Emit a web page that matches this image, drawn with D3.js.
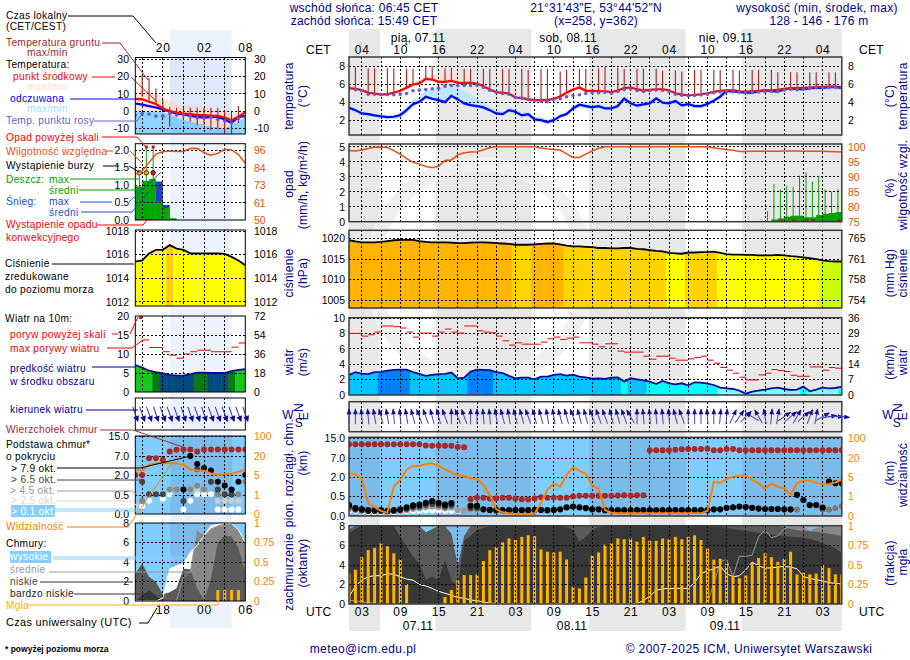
<!DOCTYPE html>
<html>
<head>
<meta charset="utf-8">
<script src="https://cdn.jsdelivr.net/npm/d3@7"></script>
<style>
	html, body { margin: 0; padding: 0; background: #fff; }
	svg { display: block; }
	text { font-family: "Liberation Sans", Arial, sans-serif; font-size: 12px; letter-spacing: 0.25px; }
	.tick text { font-size: 10.5px; letter-spacing: 0; }
	.time .tick text { font-size: 12px; letter-spacing: 0.8px; }
	.legend text { font-size: 10.2px; letter-spacing: 0.3px; }
</style>
</head>
<body>
<svg id="chart" width="910" height="660"></svg>
<script>
// main panels: hours counted in UTC from 07.11 00:00, first point is 01 UTC
const hours = d3.range(1, 79)
// left panels: hours counted from 06.11 00:00 UTC
const leftHours = d3.range(14, 31)

const cetTicks = [3, 9, 15, 21, 27, 33, 39, 45, 51, 57, 63, 69, 75]
const cetLabels = ["04", "10", "16", "22", "04", "10", "16", "22", "04", "10", "16", "22", "04"]
const utcLabels = ["03", "09", "15", "21", "03", "09", "15", "21", "03", "09", "15", "21", "03"]
const nightRanges = [[1, 5.85], [14.55, 29.5], [38.5, 53.6], [62.4, 78]]

// temperature, main
const temp = [5.56, 5.49, 5.34, 5.05, 4.97, 4.86, 4.9, 5.05, 5.27, 5.6, 5.96, 6.07, 6.59, 6.51, 6.26, 6.26, 6.37, 6.15, 6.15, 6.15,
	6.07, 5.78, 5.41, 5.12, 5.05, 4.97, 4.53, 4.46, 4.32, 4.24, 4.24, 4.24, 4.39, 4.64, 5.05, 5.41, 5.63, 5.27, 5.27, 5.23,
	5.22, 5.11, 5.3, 5.56, 5.63, 5.44, 5.3, 5.37, 5.44, 5.44, 5.3, 5, 4.85, 4.78, 4.81, 4.89, 5, 5.15, 5.26, 5.33,
	5.33, 5.22, 5.19, 5.22, 5.26, 5.3, 5.33, 5.37, 5.48, 5.56, 5.56, 5.59, 5.63, 5.67, 5.7, 5.74, 5.74, 5.67]
const feels = [3.4, 3.14, 2.78, 2.7, 2.56, 2.45, 2.37, 2.41, 2.59, 3.14, 3.8, 4.06, 4.61, 4.39, 4.24, 4.02, 4.72, 4.32, 3.88, 3.69,
	3.58, 3.44, 3.14, 2.78, 2.7, 3.14, 2.96, 2.56, 2.7, 2.12, 2.04, 1.82, 2.04, 2.48, 2.7, 3.33, 3.73, 3.58, 3.44, 3.58,
	3.33, 3.33, 3.59, 4.41, 3.89, 3.63, 3.78, 3.89, 4.44, 3.96, 3.89, 4.15, 3.67, 3.81, 3.59, 3.59, 3.81, 4.19, 4.63, 5.26,
	5.19, 5.15, 5.07, 5.07, 5.22, 5.3, 5.26, 5.19, 5.44, 5.52, 5.44, 5.44, 5.56, 5.59, 5.59, 5.67, 5.67, 5.59]
const dew = [5.5, 5.4, 5.27, 4.9, 4.9, 4.83, 4.83, 4.83, 4.9, 4.97, 5.27, 5.34, 5.41, 5.49, 5.56, 5.78, 5.85, 5.85, 5.85, 5.85,
	5.89, 5.63, 5.34, 5.12, 4.97, 4.9, 4.53, 4.46, 4.32, 4.17, 4.13, 4.13, 4.32, 4.39, 4.61, 4.75, 4.83, 4.97, 5.05, 5.05,
	5.1, 5.0, 5.2, 5.4, 5.5, 5.3, 5.2, 5.3, 5.35, 5.3, 5.2, 4.9, 4.78, 4.72, 4.75, 4.82, 4.9, 5.05, 5.15, 5.2,
	5.18, 5.12, 5.1, 5.1, 5.15, 5.2, 5.2, 5.25, 5.35, 5.45, 5.4, 5.45, 5.55, 5.6, 5.6, 5.65, 5.65, 5.6]
const tempSpread = [0.15, 0.15, 0.15, 0.15, 0.15, 0.15, 0.15, 0.15, 0.2, 0.3, 0.3, 0.45, 0.35, 0.5, 0.75, 0.85, 0.85, 0.85, 0.65, 0.45,
	0.25, 0.2, 0.15, 0.15, 0.15, 0.15, 0.15, 0.15, 0.15, 0.2, 0.2, 0.2, 0.2, 0.2, 0.2, 0.2, 0.2, 0.2, 0.2, 0.2,
	0.2, 0.2, 0.2, 0.2, 0.2, 0.2, 0.2, 0.2, 0.2, 0.2, 0.2, 0.15, 0.15, 0.15, 0.15, 0.15, 0.15, 0.15, 0.15, 0.15,
	0.15, 0.15, 0.15, 0.15, 0.15, 0.15, 0.15, 0.15, 0.15, 0.15, 0.15, 0.15, 0.15, 0.15, 0.15, 0.15, 0.15, 0.15]
const feelSpread = [0.2, 0.2, 0.2, 0.2, 0.2, 0.2, 0.2, 0.2, 0.25, 0.4, 0.5, 0.6, 0.7, 1, 1.4, 1.6, 1.1, 1.4, 1.4, 1.2,
	0.9, 0.6, 0.4, 0.3, 0.3, 0.3, 0.3, 0.3, 0.3, 0.3, 0.3, 0.3, 0.3, 0.3, 0.3, 0.3, 0.3, 0.3, 0.3, 0.3,
	0.25, 0.25, 0.25, 0.25, 0.25, 0.25, 0.25, 0.25, 0.25, 0.25, 0.25, 0.25, 0.25, 0.25, 0.25, 0.25, 0.25, 0.25, 0.25, 0.2,
	0.2, 0.2, 0.2, 0.2, 0.2, 0.2, 0.2, 0.2, 0.2, 0.2, 0.2, 0.2, 0.2, 0.2, 0.2, 0.2, 0.2, 0.2]
// ground temperature top, no bar on the 3 hourly grid lines
const groundMax = [null, 7.85, null, 7.75, 7.75, null, 7.75, 7.75, null, 7.7, 7.7, null, 7.95, 7.95, null, 7.75, 7.8, null, 7.7, 7.7,
	null, 7.7, 7.7, null, 7.7, 7.7, null, 7.7, 7.6, null, 7.7, 7.7, null, 7.4, 7.6, null, 7.7, 7.7, null, 7.75,
	7.9, null, 7.8, 7.7, null, 7.7, 7.7, null, 7.7, 7.5, null, 7.5, 7.4, null, 7.6, 7.6, null, 7.6, 7.6, null,
	7.6, 7.5, null, 7.6, 7.6, null, 7.6, 7.3, null, 7.3, 7.3, null, 7.3, 7.3, null, 7.3, 7.3, null]

// precipitation and humidity, main
const humidity = [98.7, 98.6, 98.9, 99.4, 99.8, 99.9, 99.7, 98.7, 97.5, 96, 94.8, 94.2, 93.4, 93.1, 93.5, 95.4, 95.6, 97.3, 98, 98.2,
	98.3, 99, 99.7, 100, 100, 100, 100, 100, 100, 100, 99.6, 99.3, 99.1, 98.9, 97.6, 96.4, 96.4, 97.5, 98.6, 99.5,
	100, 100, 100, 100, 100, 100, 100, 100, 100, 100, 100, 100, 100, 100, 100, 100, 99.9, 99.6, 99.3, 99.1,
	98.8, 98.4, 98.4, 98.5, 98.5, 98.5, 98.5, 98.5, 98.6, 98.6, 98.6, 98.5, 98.5, 98.5, 98.5, 98.4, 98.3, 98.2]
const rainMax = [0.7, 2.5, 2.15, 2.4, 2.33, 3.07, 3.3, 2.67, 3.07, 2.15, 2, 2.15]   // from h = 66
const rainMean = [0.15, 0.22, 0.33, 0.4, 0.4, 0.29, 0.29, 0.44, 0.53, 0.58, 0.64]   // from h = 67
const convective = [68, 70, 72, 73, 77]

// pressure, main
const pressure = [1019.6, 1019.3, 1019.1, 1019.1, 1019.1, 1019.2, 1019.4, 1019.6, 1019.7, 1019.7, 1019.7, 1019.4, 1019.2, 1019.1, 1019.1, 1019.1, 1019, 1018.9, 1018.9, 1019,
	1019.1, 1019.1, 1019, 1018.9, 1018.8, 1018.7, 1018.5, 1018.5, 1018.5, 1018.6, 1018.7, 1018.8, 1018.8, 1018.6, 1018.3, 1018.1, 1018.1, 1018, 1017.9, 1017.7,
	1017.7, 1017.6, 1017.6, 1017.7, 1017.7, 1017.5, 1017.4, 1017.2, 1017, 1016.9, 1016.5, 1016.4, 1016.3, 1016.6, 1016.6, 1016.7, 1016.7, 1016.8, 1016.5, 1016.2,
	1016.1, 1016.1, 1016, 1016, 1015.9, 1015.9, 1015.9, 1016, 1015.9, 1015.7, 1015.6, 1015.4, 1015.2, 1015, 1014.7, 1014.5, 1014.4, 1014.4]

// wind, main
const wind = [2.6, 2.96, 2.78, 2.7, 2.96, 3, 3.17, 3.26, 3.3, 3.3, 2.98, 2.74, 2.48, 2.6, 2.7, 2.74, 2.91, 2.17, 2.26, 3.04,
	3.3, 3.26, 3.22, 2.98, 2.83, 2.48, 2.17, 2.26, 2.26, 2.04, 2.39, 2.39, 2.6, 2.7, 2.52, 2.65, 2.39, 2.3, 2.13, 2.17,
	2.09, 2.26, 2.3, 1.74, 2.17, 2.04, 1.91, 1.74, 1.43, 1.83, 1.52, 1.39, 1.52, 1.26, 1.65, 1.61, 1.48, 1.3, 0.96, 0.87,
	0.78, 0.57, 0.17, 0.43, 0.57, 0.7, 0.87, 0.96, 0.78, 0.65, 0.7, 1.09, 0.48, 0.7, 0.96, 0.87, 0.91, 1.09]
const gust = [8, 8, 7.65, 7.83, 8.17, 8.96, 8.96, 8.87, 8.7, 8.17, 7.52, 8.04, 8.04, 7.65, 8.17, 8.57, 8.17, 8.04, 8.96, 8.96,
	8.35, 8.17, 8.09, 7.65, 7.04, 6.48, 6.78, 6.6, 6.6, 6.6, 6.87, 7.3, 7.52, 7.22, 7.39, 7.52, 6.78, 6.78, 6.6, 6.26,
	6.65, 6.65, 5.7, 5.57, 5.57, 5.57, 5.04, 4.65, 5.04, 5.04, 4.78, 4.52, 4.52, 4.7, 4.87, 5.04, 4.52, 4.13, 3.57, 3.22,
	2.83, 2.3, 1.96, 1.96, 2.61, 2.83, 3.3, 3.17, 3.04, 2.57, 2.43, 2.43, 3.65, 3.65, 3.22, 3.57, 3.48]
const windDir = [0, 0, 355, 355, 350, 345, 350, 355, 355, 350, 345, 340, 340, 345, 345, 340, 0, 340, 340, 0,
	0, 355, 355, 350, 345, 350, 345, 345, 340, 345, 345, 350, 350, 345, 345, 340, 345, 345, 340, 340,
	340, 345, 345, 340, 330, 0, 355, 355, 355, 355, 355, 345, 340, 0, 0, 0, 355, 0, 5, 5,
	25, 35, 45, 300, 330, 350, 5, 10, 55, 50, 30, 50, 20, 10, 60, 80, 90, 95]

// clouds, main (km)
const topA = [12.5, 12.5, 12.5, 12.5, 12.5, 12.5, 12.5, 12.5, 12.5, 12.5, 12.5, 12.5, 12, 11.9, 11.9, 11.9, 11.9, 11.4, 11.3]   // from h = 1
const topB = [0.43, 0.47, 0.47, 0.45, 0.45, 0.47, 0.47, 0.45, 0.43, 0.42, 0.45, 0.48, 0.47, 0.47, 0.47, 0.47, 0.5, 0.55, 0.55, 0.55, 0.55,
	0.55, 0.56, 0.58, 0.6, 0.58, 0.6, 0.6]   // from h = 20
const topC = [10.1, 10.1, 10.1, 10.1, 10.3, 10.5, 10.6, 10.6, 10.6, 10.7, 10.1, 10.1, 10.6, 10.6,
	10.1, 10.1, 10.1, 10.1, 10.1, 10.1, 10.1, 10.1, 10.1, 10.1, 10.1, 10.1, 10.1, 10.1, 10.1, 10.1, 10.1]   // from h = 48
const baseBlack = [0.28, 0.2, 0.17, 0.15, 0.15, 0.15, 0.13, 0.15, 0.17, 0.22, 0.27, 0.29, 0.34, 0.38, 0.34, 0.29, 0.33, null, null, 0.26,
	0.26, 0.17, 0.155, 0.15, 0.15, 0.15, 0.15, 0.15, 0.15, 0.155, 0.155, 0.15, 0.155, 0.17, 0.22, 0.24, 0.22, 0.2, 0.17, 0.17,
	0.15, 0.15, 0.15, 0.15, 0.15, 0.15, 0.15, 0.15, 0.15, 0.15, 0.15, 0.15, 0.15, 0.15, 0.15, 0.15, 0.15, 0.17, 0.17, 0.21,
	0.22, 0.24, 0.23, 0.21, 0.19, 0.18, 0.18, 0.18, 0.17, 0.17, 0.63, 0.41, 0.28, 0.28, 0.215, 1.64, 1.52, 1.52]
const baseDark = [0.22, 0.17, 0.15, 0.13, 0.13, 0.13, 0.12, 0.13, 0.15, 0.18, 0.22, 0.24, 0.28, 0.31, 0.28, 0.24, 0.27, null, null, 0.2, 0.2]   // from h = 1
const baseGray = [0.17, 0.15, 0.13, 0.12, 0.12, 0.12, 0.11, 0.12, 0.13, 0.15, 0.18, 0.19, 0.22, 0.24, 0.22, 0.19, 0.21, 0.15, 0.15, 0.16, 0.16]   // from h = 1
const baseWhite = [0.13, 0.13, 0.11, 0.1, 0.1, 0.1, 0.1, 0.1, 0.11, 0.12, 0.13, 0.13, 0.14, 0.14, 0.14, 0.13, 0.13, 0.12]   // from h = 1
const baseGrayLate = [0.16, 0.16, null, null, null, 0.16, 0.16, 0.2, 0.25]   // from h = 70
const visibility = [7.1, 7.1, 4.6, 0.66, 0.45, 0.26, 0.17, 3.03, 4.39, 10.5, 13.9, 13.7, 15, 15.8, 13.7, 11.05, 8.7, 6.3, 5.8, 4.7,
	4.66, 3.37, 1.34, 0.34, 0.19, 0.14, 0.1, 0.1, 0.09, 0.14, 0.66, 2.36, 3.7, 3.03, 6.6, 12.6, 10, 7.4, 3.37, 2.5,
	0.31, 0.17, 0.14, 0.14, 0.14, 0.14, 0.14, 0.14, 0.14, 0.14, 0.14, 0.14, 0.14, 0.14, 0.14, 0.14, 0.26, 4, 3.8, 4.6,
	5.3, 6, 6, 4.4, 3.7, 2.56, 3.7, 3, 2.7, 1.34, 3.7, 4.3, 4.25, 3.8, 3.5, 3.56, 3.9, 4.4]

// cloud cover (octants) and fog fraction, main
const cloudHigh = [0.75, 1.8, 2.45, 2.8, 2.9, 2.9, 3.1, 3.05, 2.8, 2.55, 2.45, 2, 1.85, 1.6, 1.3, 1.1, 0.9, 0.65, 0.6, 0.4,
	0.35, 0.2, 0.1, 0.05, 0, 0, 0, 0, 0, 0, 0, 0, 0, 0, 0, 0, 0, 0, 0, 0,
	0, 0, 0, 0, 0, 0.05, 0.35, 0.8, 1.4, 1.55, 1.6, 1.6, 1.6, 1.6, 2.2, 3.1, 3.4, 3.6, 3.9, 3.1,
	2.8, 2.9, 3.5, 4.3, 3.9, 3.7, 3.7, 3.8, 3.85, 3.8, 3.6, 2.85, 2.6, 2.5, 2.35, 2.2, 2.1, 2.05]
const cloudMid = [0.4, 0.3, 0.2, 0.15, 0.1, 0, 0, 0, 0, 0, 0, 0, 0, 0, 0, 0, 0, 0, 0, 0,
	0, 0, 0, 0, 0, 0, 0, 0, 0, 0, 0, 0, 0, 0, 0, 0, 0, 0, 0, 0,
	0, 0, 0, 0, 0, 0, 0, 0, 0, 0, 0, 0, 0, 0, 0, 0, 0.1, 2.1, 4.3, 4.6,
	2.8, 4.9, 4.9, 5, 6.9, 7.6, 6.8, 7, 7.7, 7.95, 7.95, 7.95, 7.5, 7.8, 8, 8, 8, 8]
const cloudLow = [7.7, 8, 8, 8, 8, 8, 8, 8, 8, 8, 8, 8, 7.35, 7.7, 8, 8, 7.2, 4, 7, 8,
	8, 8, 8, 8, 8, 8, 8, 8, 8, 8, 8, 8, 8, 8, 8, 8, 8, 8, 8, 8,
	8, 8, 8, 8, 8, 8, 8, 8, 8, 8, 8, 8, 8, 8, 8, 8, 8, 8, 8, 8,
	8, 8, 8, 8, 8, 8, 8, 8, 7.95, 7.7, 7.6, 7.5, 7.45, 7.4, 7.3, 7.2, 7.1, 7]
const cloudVeryLow = [7.3, 7.7, 8, 8, 8, 8, 8, 8, 6.9, 5.9, 4.9, 4.1, 2.5, 2.8, 2.5, 4.5, 2.4, 1.8, 6.5, 7,
	7.6, 7.8, 8, 8, 8, 8, 8, 8, 8, 8, 8, 8, 8, 8, 7.9, 7.6, 6.4, 6.9, 7.6, 7.9,
	8, 8, 8, 8, 8, 8, 8, 8, 8, 8, 8, 8, 8, 8, 8, 8, 8, 7.9, 7.95, 7.8,
	7.7, 7.6, 7.5, 7.4, 7.3, 7.2, 7.1, 7, 6.95, 6.9, 6.85, 6.8, 6.7, 6.5, 6.2, 6, 5.7, 5.2]
const fog = [0.39, 0.44, 0.6, 0.69, 0.72, 0.78, 0.74, 0.65, 0.57, 0.255, 0, 0, 0, 0, 0, 0.09, 0.18, 0.3, 0.37, 0.37,
	0.38, 0.55, 0.69, 0.73, 0.79, 0.84, 0.82, 0.86, 0.88, 0.87, 0.7, 0.67, 0.66, 0.67, 0.57, 0.22, 0.2, 0.34, 0.62, 0.66,
	0.76, 0.78, 0.84, 0.83, 0.84, 0.8, 0.86, 0.81, 0.81, 0.84, 0.83, 0.86, 0.83, 0.86, 0.88, 0.82, 0.71, 0.57, 0.58, 0.52,
	0.36, 0.33, 0.37, 0.53, 0.59, 0.65, 0.6, 0.54, 0.58, 0.67, 0.38, 0.4, 0.38, 0.39, 0.5, 0.46, 0.38, 0.38]

// left panel series, 17 points each
const leftTemp = [7, 6.8, 5.4, 4.1, 1.5, 0, -0.8, -1.4, -1.7, -2.3, -2.3, -2.7, -2.7, -3.7, -5.2, -3.3, -0.6]
const leftFeels = [4.4, 3.7, 2.9, 2.1, 1, -0.2, -1.4, -1.7, -2.7, -3.3, -3.7, -3.3, -3.3, -4.8, -6.8, -3.3, -2.7]
const leftDew = [-2.3, -1.4, -1.7, -2.9, -2.9, -1.4, -2.3, -2.3, -2.9, -3.9, -4.3, -3.7, -4.8, -5.6, -6.8, -4.3, -3.3]
const leftTempMax = [13.2, 12.2, 11.2, 10.3, 8.3, 5.4, 4.1, 2.9, 2.5, 2.5, 2.1, 1.5, 1, 0.2, -2.3, -0.4, 0]
const leftFeelTop = [-0.4, -0.4, -0.4, -0.4, -0.4, -2.3, -3.6, -5, -6, -7, -8, -9, -9.3, -10, -8, -5.5, -4]
const leftGroundMax = [null, 20.9, 19, 13, 6.5, 2.5, 2, 2, 2, 2, 2, 2, 2, 0, 0, 2.9, null]
const leftGroundMin = [null, 8.3, 5.4, 4.1, 1, -9, -2.3, -5.2, -6, -8, -8, -11, -10, -13, -13, -6.8, null]
const leftHumidity = [80, 82.2, 87.7, 93.3, 94.8, 95.3, 95, 95, 97, 97.1, 94.2, 92.5, 93.8, 96.5, 96, 93, 87.2]
const leftRainMean = [0.96, 1.12, 1.17, 0.53, 0.34, 0.05]
const leftSnowMean = [0, 0, 0, 1.1, 0.43, 0]
const leftRainMax = [1.35, 2.1, 2.1]
const leftStormColors = ["#ffee00", "#ffa000", "#ee1010"]
const leftPressure = [1015.4, 1015.5, 1016.1, 1016.4, 1016.4, 1016.8, 1016.5, 1016.4, 1016.1, 1016.1, 1016.1, 1016.1, 1016.1, 1016.05, 1015.8, 1015.5, 1015.1]
const leftWind = [7.1, 6.4, 5.6, 5.2, 4.9, 4.5, 4.3, 4.3, 4.7, 5.1, 5.1, 5, 5, 5, 5.5, 5.8, 6]
const leftGust = [null, 13.7, 11.7, 11.7, 10.6, 9.7, 8.9, 10, 10.6, 11, 11, 10.6, 10.6, 10.6, 11.8, 12.9]
const leftWindDir = [160, 160, 160, 162, 160, 160, 160, 162, 160, 160, 162, 160, 160, 160, 160, 160, 160]
const leftTop = [2, 2, 6.4, 6.4, 6, 8.8, 9.5, 9.6, 9.6, 8.8, 9.6, 9.6, 9.6, 9.6, 9.6, 9.6, 9.6]
const leftBlack = [null, null, null, null, null, null, null, 0.92, 7, 4.9, 3.84, 3.2, 1.5, 1.22, 0.92, 1.5, 2]
const leftDark = [null, 1.5, 0.56, 0.56, 0.56, null, null, 0.34, null, 3.5, null, 1.5, 0.92, 0.56, 0.56, null, null]
const leftGray = [null, 0.34, null, null, null, 0.92, 0.92, null, 0.92, 1.2, 0.92, null, 0.56, null, 0.5, 0.55, 1.5]
const leftLight = [0.2, null, null, null, null, 0.9, null, null, null, 0.9, null, null, 0.35, 0.35, 0.35, 0.35, null]
const leftWhite = [null, 0.2, 0.35, null, 0.4, 0.55, null, 0.12, 0.35, 0.55, 0.55, 0.55, 0.12, 0.12, 0.12, 0.12, null]
const leftVis = [8.9, 8.4, 12.9, 14.2, 14.2, 14.2, 14.2, 12.9, 9.5, 8.4, 8.4, 6.3, 5, 5.8, 5.8, 7.6, 8.9]
const leftCloudHigh = [0, 0, 0, 0, 0.3, 3.3, 3.6, 3.85, 5, 5.7, 6.7, 7.7, 7.9, 7.95, 7.95, 7.3, 6]
const leftCloudMid = [0, 0, 0, 0, 0, 0, 0, 2.5, 3, 7.2, 6.7, 7.4, 7.7, 7.9, 7.9, 7.3, 6]
const leftCloudLow = [2.8, 3.85, 2.5, 1.95, 0.7, 0.9, 1.3, 3.3, 3.25, 1.3, 0.1, 2.3, 6, 6.75, 6.6, 5.4, 3]
const leftCloudVeryLow = [0, 0.6, 1.1, 0.6, 0, 0, 0, 0, 0, 0, 0, 0, 0, 0, 0, 0, 0]
const leftFog = [0, 0, 0, 0, 0, 0, 0, 0, 0, 0, 0, 0, 0.14, 0.14, 0.14, 0.14, 0]

// tick values and labels
const tempTicks = [2, 4, 6, 8]
const leftTempTicks = [30, 20, 10, 0, -10]
const rainTicks = [0, 1, 2, 3, 4, 5]
const humidityTicks = [100, 95, 90, 85, 80, 75]
const leftRainTicks = [2, 1.5, 1, 0.5, 0]
const leftHumidityLabels = ["96", "84", "73", "61", "50"]
const pressureTicks = [1020, 1015, 1010, 1005]
const mmHgLabels = ["765", "761", "758", "754"]
const leftPressureTicks = [1018, 1016, 1014, 1012]
const windTicks = [10, 8, 6, 4, 2, 0]
const kmhLabels = ["36", "29", "22", "14", "7", "0"]
const leftWindTicks = [20, 15, 10, 5, 0]
const leftKmhLabels = ["72", "54", "36", "18", "0"]
const baseTicks = [0, 0.5, 2, 7, 15]
const baseLabels = ["0.0", "0.5", "2.0", "7.0", "15.0"]
const visTicks = [0, 1, 5, 20, 100]
const cloudTicks = [0, 2, 4, 6, 8]
const fogLabels = ["0", "0.25", "0.5", "0.75", "1"]

const NAVY = "#000090"
const RH_COLOR = "#e85010"
const VIS_COLOR = "#ff8000"
const FOG_COLOR = "#ffb400"
const TOP_COLOR = "#a52a2a"

const svg = d3.select("#chart")
let clipCount = 0

const xMain = d3.scaleLinear().domain([1, 78]).range([349, 841.8])
const xLeft = d3.scaleLinear().domain([14, 30]).range([135.3, 245.3])

const lineOf = (x, y) => d3.line().defined(d => d[1] != null).x(d => x(d[0])).y(d => y(d[1]))
const pairs = (xs, ys) => ys.map((v, i) => [xs[i], v])

// night bands go under everything
nightRanges.forEach(r => {
	svg.append("rect").attr("x", xMain(r[0])).attr("y", 29).attr("width", xMain(r[1]) - xMain(r[0])).attr("height", 602).attr("fill", "#e8e8e8")
})
svg.append("rect").attr("x", 170).attr("y", 30).attr("width", 61.7).attr("height", 598).attr("fill", "#ecf3fd")
// faint logo in the background
svg.append("circle").attr("cx", 480).attr("cy", 272).attr("r", 108).attr("fill", "none").attr("stroke", "#f0f0f0").attr("stroke-width", 15)

// one panel = clipped group + helpers for grid and frame
function makePanel(x, top, bottom) {
	const id = "clip" + (clipCount++)
	svg.append("clipPath").attr("id", id).append("rect")
		.attr("x", x.range()[0]).attr("y", top).attr("width", x.range()[1] - x.range()[0]).attr("height", bottom - top)
	return { x, top, bottom, id, g: svg.append("g").attr("clip-path", `url(#${id})`) }
}

function grid(p, ys) {
	const vLines = p.x === xMain ? d3.range(3, 78, 3) : d3.range(15, 30, 3)
	const g = p.g.append("g").attr("stroke", "#000").attr("stroke-dasharray", "2,2").attr("shape-rendering", "crispEdges")
	vLines.forEach(h => g.append("line").attr("x1", p.x(h)).attr("x2", p.x(h)).attr("y1", p.top).attr("y2", p.bottom))
	ys.forEach(y => g.append("line").attr("x1", p.x.range()[0]).attr("x2", p.x.range()[1]).attr("y1", y).attr("y2", y))
}

function frame(p) {
	const main = p.x === xMain
	svg.append("rect").attr("x", p.x.range()[0]).attr("y", p.top)
		.attr("width", p.x.range()[1] - p.x.range()[0]).attr("height", p.bottom - p.top)
		.attr("fill", "none").attr("stroke", main ? "#3a3a3a" : "#000").attr("stroke-width", main ? 1.5 : 1)
}

function axisAt(x, scale, ticks, labels, side, color) {
	const axis = side === "left" ? d3.axisLeft(scale) : d3.axisRight(scale)
	const g = svg.append("g").attr("transform", `translate(${x},0)`)
		.call(axis.tickValues(ticks).tickSize(0).tickPadding(0).tickFormat((d, i) => labels ? labels[i] : d))
	g.select(".domain").remove()
	g.selectAll("text").attr("fill", color || "#000")
}

function rotated(x, y, label, color) {
	svg.append("text").attr("transform", `translate(${x},${y}) rotate(-90)`)
		.attr("text-anchor", "middle").attr("fill", color || NAVY).text(label)
}

function label(x, y, txt, color, anchor, size, weight, parent) {
	const t = (parent || svg).append("text").attr("x", x).attr("y", y + 4).attr("fill", color || "#000")
		.attr("text-anchor", anchor || "start").text(txt)
	if (size) t.style("font-size", size + "px").style("letter-spacing", "0")
	if (weight) t.style("font-weight", weight)
	return t
}

function leader(points, color) {
	svg.append("path").attr("d", d3.line()(points)).attr("fill", "none").attr("stroke", color).attr("stroke-width", 1)
}

function dots(p, y, xs, vals, color, r) {
	p.g.append("g").attr("fill", color).selectAll("circle")
		.data(pairs(xs, vals).filter(d => d[1] != null)).enter().append("circle")
		.attr("cx", d => p.x(d[0])).attr("cy", d => y(d[1])).attr("r", r)
}

function clippedColumns(p, xs, vals, y, colorOf) {
	// columns coloured per hour, clipped by the area under the series
	const id = "clip" + (clipCount++)
	svg.append("clipPath").attr("id", id).append("path")
		.attr("d", d3.area().x(d => p.x(d[0])).y0(p.bottom).y1(d => y(d[1]))(pairs(xs, vals)))
	const g = p.g.append("g").attr("clip-path", `url(#${id})`)
	xs.forEach((h, i) => {
		g.append("rect").attr("x", p.x(h - 0.5)).attr("width", p.x(h + 0.5) - p.x(h - 0.5) + 0.5)
			.attr("y", p.top).attr("height", p.bottom - p.top).attr("fill", colorOf(vals[i]))
	})
}

function arrows(x, xs, dirs, mid, len, headW, lineColor) {
	const g = svg.append("g")
	xs.forEach((h, i) => {
		const a = g.append("g").attr("transform", `translate(${x(h)},${mid}) rotate(${dirs[i]})`)
		a.append("line").attr("y1", len).attr("y2", -len).attr("stroke", lineColor).attr("stroke-width", 1)
		a.append("path").attr("d", `M0,${-len - 1}L${-headW},${-len + 5}L${headW},${-len + 5}Z`).attr("fill", "#10108c")
	})
}

function compass(wx, sx, nx, ex) {
	label(wx, 415, "W", NAVY, "middle")
	label(sx, 423, "S", NAVY, "middle")
	svg.append("text").attr("transform", `translate(${nx},407.5) rotate(-90)`).attr("text-anchor", "middle").attr("fill", NAVY).text("N")
	svg.append("text").attr("transform", `translate(${ex},416) rotate(-90)`).attr("text-anchor", "middle").attr("fill", NAVY).text("E")
}

// ---- temperature
{
	const y = d3.scaleLinear().domain([2, 8]).range([120.5, 66])
	const p = makePanel(xMain, 57, 135)
	const bandOf = (vals, spread, below) => d3.area().x(d => xMain(d)).y0((d, i) => y(vals[i] - below)).y1((d, i) => y(vals[i] + spread[i]))(hours)
	p.g.append("path").attr("d", bandOf(temp, tempSpread, 0.15)).attr("fill", "#ffdcd6")
	p.g.append("path").attr("d", bandOf(feels, feelSpread, 0.25)).attr("fill", "#bfe6ff")
	grid(p, tempTicks.map(y))
	pairs(hours, groundMax).filter(d => d[1] != null).forEach(d => {
		p.g.append("line").attr("x1", xMain(d[0])).attr("x2", xMain(d[0])).attr("y1", y(d[1])).attr("y2", y(temp[d[0] - 1]))
			.attr("stroke", "#a02020").attr("stroke-width", 1.1)
	})
	p.g.append("path").attr("d", lineOf(xMain, y)(pairs(hours, feels))).attr("fill", "none").attr("stroke", "#0000ff").attr("stroke-width", 2.2)
	p.g.append("path").attr("d", lineOf(xMain, y)(pairs(hours, temp))).attr("fill", "none").attr("stroke", "#ff0000").attr("stroke-width", 2.2)
	dots(p, y, hours, dew, "#6a5acd", 1.8)
	frame(p)
	axisAt(345, y, tempTicks, null, "left")
	axisAt(848, y, tempTicks, null, "right")
	rotated(293, 96, "temperatura")
	rotated(307, 96, "(°C)")
	rotated(894, 96, "(°C)")
	rotated(907, 96, "temperatura")
}
{
	const y = d3.scaleLinear().domain([-10, 30]).range([128.5, 59])
	const p = makePanel(xLeft, 57.5, 134)
	const area = (top, low) => d3.area().x(d => xLeft(d)).y0((d, i) => y(low)).y1((d, i) => y(top[i]))(leftHours)
	p.g.append("path").attr("d", area(leftTempMax, -14)).attr("fill", "#ffe6da")
	p.g.append("path").attr("d", area(leftFeelTop, -14)).attr("fill", "#8ed4ff")
	p.g.append("rect").attr("x", 170).attr("y", 57).attr("width", 61.7).attr("height", 78).attr("fill", "#3060c0").attr("opacity", 0.08)
	grid(p, leftTempTicks.map(y))
	leftHours.forEach((h, i) => {
		if (leftGroundMax[i] == null) return
		p.g.append("line").attr("x1", xLeft(h)).attr("x2", xLeft(h)).attr("y1", y(leftGroundMax[i])).attr("y2", y(leftGroundMin[i]))
			.attr("stroke", "#a02020").attr("stroke-width", 1.1)
	})
	p.g.append("path").attr("d", lineOf(xLeft, y)(pairs(leftHours, leftFeels))).attr("fill", "none").attr("stroke", "#0000ff").attr("stroke-width", 2.2)
	p.g.append("path").attr("d", lineOf(xLeft, y)(pairs(leftHours, leftTemp))).attr("fill", "none").attr("stroke", "#ff0000").attr("stroke-width", 2.2)
	dots(p, y, leftHours, leftDew, "#6a5acd", 1.8)
	frame(p)
	axisAt(129, y, leftTempTicks, null, "left")
	axisAt(254, y, leftTempTicks, null, "right")
}

// ---- precipitation and humidity
{
	const y = d3.scaleLinear().domain([0, 5]).range([221.7, 146.7])
	const yRh = d3.scaleLinear().domain([75, 100]).range([221.7, 146.7])
	const p = makePanel(xMain, 144, 221.7)
	rainMax.forEach((v, i) => {
		p.g.append("line").attr("x1", xMain(66 + i + 0.4)).attr("x2", xMain(66 + i + 0.4)).attr("y1", y(v)).attr("y2", y(0))
			.attr("stroke", "#00a000")
	})
	rainMean.forEach((v, i) => {
		p.g.append("rect").attr("x", xMain(67 + i)).attr("width", xMain(68 + i) - xMain(67 + i) + 0.3)
			.attr("y", y(v)).attr("height", y(0) - y(v)).attr("fill", "#00a000")
	})
	grid(p, rainTicks.slice(1).map(y))
	convective.forEach(h => {
		p.g.append("rect").attr("x", xMain(h + 0.25)).attr("y", 219.5).attr("width", 3).attr("height", 2.2).attr("fill", "#dd0000")
	})
	p.g.append("path").attr("d", lineOf(xMain, yRh)(pairs(hours, humidity))).attr("fill", "none").attr("stroke", RH_COLOR).attr("stroke-width", 1.5)
	frame(p)
	axisAt(345, y, rainTicks, null, "left")
	axisAt(848, yRh, humidityTicks, null, "right", RH_COLOR)
	rotated(293, 184, "opad")
	rotated(307, 185, "(mm/h, kg/m²/h)")
	rotated(894, 188, "(%)")
	rotated(907, 185, "wilgotność wzgl.")
}
{
	const y = d3.scaleLinear().domain([0, 2]).range([220, 150])
	const yRh = d3.scaleLinear().domain([50, 96]).range([220, 150])
	const p = makePanel(xLeft, 143.7, 220)
	leftSnowMean.forEach((v, i) => {
		p.g.append("rect").attr("x", xLeft(14 + i)).attr("width", xLeft(15 + i) - xLeft(14 + i))
			.attr("y", y(v)).attr("height", y(0) - y(v)).attr("fill", "#2040c8")
	})
	leftRainMean.forEach((v, i) => {
		p.g.append("rect").attr("x", xLeft(14 + i)).attr("width", xLeft(15 + i) - xLeft(14 + i))
			.attr("y", y(v)).attr("height", y(0) - y(v)).attr("fill", "#00a800")
	})
	leftRainMax.forEach((v, i) => {
		p.g.append("line").attr("x1", xLeft(14.6 + i)).attr("x2", xLeft(14.6 + i)).attr("y1", y(v)).attr("y2", y(0)).attr("stroke", "#00a800")
	})
	grid(p, leftRainTicks.slice(0, 4).map(y))
	leftRainMax.forEach((v, i) => {
		p.g.append("circle").attr("cx", xLeft(14.6 + i)).attr("cy", y(1.35)).attr("r", 2.3)
			.attr("fill", leftStormColors[i]).attr("stroke", "#000").attr("stroke-width", 0.7)
		if (v > 2) p.g.append("rect").attr("x", xLeft(14.6 + i) - 1.5).attr("y", y(v) - 1).attr("width", 3).attr("height", 3).attr("fill", "#ee0000")
		p.g.append("line").attr("x1", xLeft(14 + i)).attr("x2", xLeft(15 + i)).attr("y1", 219.5).attr("y2", 219.5)
			.attr("stroke", "#ee0000").attr("stroke-width", 1).attr("stroke-dasharray", "3,2")
	})
	p.g.append("path").attr("d", lineOf(xLeft, yRh)(pairs(leftHours, leftHumidity))).attr("fill", "none").attr("stroke", RH_COLOR).attr("stroke-width", 1.5)
	frame(p)
	axisAt(129, y, leftRainTicks, leftRainTicks.map(d => d3.format(".1f")(d)), "left")
	axisAt(254, yRh, [96, 84, 73, 61, 50], leftHumidityLabels, "right", RH_COLOR)
}

// ---- pressure
{
	const y = d3.scaleLinear().domain([1005, 1020]).range([300, 238.6])
	const p = makePanel(xMain, 230.3, 308)
	const color = d3.scaleThreshold().domain([1014.75, 1016.55, 1018.55]).range(["#ccff00", "#ffff00", "#ffd400", "#ffb400"])
	clippedColumns(p, hours, pressure, y, color)
	grid(p, pressureTicks.map(y))
	p.g.append("path").attr("d", lineOf(xMain, y)(pairs(hours, pressure))).attr("fill", "none").attr("stroke", "#000").attr("stroke-width", 1.8)
	frame(p)
	axisAt(345, y, pressureTicks, null, "left")
	axisAt(848, y, pressureTicks, mmHgLabels, "right")
	rotated(293, 273, "ciśnienie")
	rotated(307, 273, "(hPa)")
	rotated(894, 273, "(mm Hg)")
	rotated(907, 273, "ciśnienie")
}
{
	const y = d3.scaleLinear().domain([1012, 1018]).range([301.7, 231])
	const p = makePanel(xLeft, 230, 306)
	const color = d3.scaleThreshold().domain([1016.6]).range(["#ffff00", "#ffd000"])
	clippedColumns(p, leftHours, leftPressure, y, color)
	grid(p, leftPressureTicks.map(y))
	p.g.append("path").attr("d", lineOf(xLeft, y)(pairs(leftHours, leftPressure))).attr("fill", "none").attr("stroke", "#000").attr("stroke-width", 1.8)
	frame(p)
	axisAt(129, y, leftPressureTicks, null, "left")
	axisAt(254, y, leftPressureTicks, null, "right")
}

// ---- wind
function gustSteps(p, y, startHour, vals, width) {
	vals.forEach((v, i) => {
		if (v == null) return
		p.g.append("line").attr("x1", p.x(startHour + i)).attr("x2", p.x(startHour + i + 1)).attr("y1", y(v)).attr("y2", y(v))
			.attr("stroke", "#ee0000").attr("stroke-width", width)
	})
}
{
	const y = d3.scaleLinear().domain([0, 10]).range([395, 318])
	const p = makePanel(xMain, 317.7, 395)
	const color = d3.scaleThreshold().domain([1, 1.9, 3]).range(["#7dfcff", "#00ffff", "#00c4ff", "#0080f8"])
	clippedColumns(p, hours, wind, y, color)
	grid(p, windTicks.slice(0, 5).map(y))
	gustSteps(p, y, 1, gust, 1)
	p.g.append("path").attr("d", lineOf(xMain, y)(pairs(hours, wind))).attr("fill", "none").attr("stroke", "#0a0a9c").attr("stroke-width", 1.8)
	frame(p)
	axisAt(345, y, windTicks, null, "left")
	axisAt(848, y, windTicks, kmhLabels, "right")
	rotated(293, 362, "wiatr")
	rotated(307, 362, "(m/s)")
	rotated(894, 362, "(km/h)")
	rotated(907, 362, "wiatr")
}
{
	const y = d3.scaleLinear().domain([0, 20]).range([392, 316])
	const p = makePanel(xLeft, 316, 392)
	const color = d3.scaleThreshold().domain([5.02, 5.55]).range(["#004a80", "#087a18", "#18c818"])
	clippedColumns(p, leftHours, leftWind, y, color)
	grid(p, leftWindTicks.slice(1, 4).map(y))
	gustSteps(p, y, 14, leftGust, 1)
	p.g.append("path").attr("d", lineOf(xLeft, y)(pairs(leftHours, leftWind))).attr("fill", "none").attr("stroke", "#0a0a9c").attr("stroke-width", 1.8)
	p.g.append("rect").attr("x", xLeft(15) - 3).attr("y", 316).attr("width", 3).attr("height", 3).attr("fill", "#ee0000")
	frame(p)
	axisAt(129, y, leftWindTicks, null, "left")
	axisAt(254, y, leftWindTicks, leftKmhLabels, "right")
}

// ---- wind direction
{
	const p = makePanel(xMain, 401.7, 431.7)
	grid(p, [])
	frame(p)
	arrows(xMain, hours, windDir, 416.7, 7.5, 2.4, "#4848b8")
	const q = makePanel(xLeft, 398, 430)
	grid(q, [])
	frame(q)
	arrows(xLeft, leftHours, leftWindDir, 414, 7.5, 3, "#303098")
	compass(288, 299, 303, 308)
	compass(888, 897, 902, 907)
}

// ---- cloud base and visibility
function skyBackground(p, nights) {
	p.g.append("rect").attr("x", p.x.range()[0]).attr("y", p.top).attr("width", p.x.range()[1] - p.x.range()[0])
		.attr("height", p.bottom - p.top).attr("fill", "#80ceff")
	nights.forEach(r => {
		p.g.append("rect").attr("x", p.x(r[0])).attr("y", p.top).attr("width", p.x(r[1]) - p.x(r[0]))
			.attr("height", p.bottom - p.top).attr("fill", "#7cbcea")
	})
}
{
	const y = d3.scaleLinear().domain(baseTicks).range([516, 496.5, 477, 458, 438])
	const yVis = d3.scaleLinear().domain(visTicks).range([516, 496.5, 477, 458, 438])
	const p = makePanel(xMain, 437.3, 516)
	skyBackground(p, nightRanges)
	grid(p, baseTicks.slice(1, 4).map(y).concat([y(15)]))
	dots(p, y, hours, baseWhite, "#fff", 3)
	dots(p, y, hours, baseGray, "#999", 3)
	dots(p, y, d3.range(70, 79), baseGrayLate, "#777", 3)
	dots(p, y, hours, baseDark, "#444", 3)
	dots(p, y, hours, baseBlack, "#000", 3.1)
	dots(p, y, hours, topA, TOP_COLOR, 3)
	dots(p, y, d3.range(20, 48), topB, TOP_COLOR, 3)
	dots(p, y, d3.range(48, 79), topC, TOP_COLOR, 3)
	p.g.append("path").attr("d", lineOf(xMain, yVis)(pairs(hours, visibility))).attr("fill", "none").attr("stroke", VIS_COLOR).attr("stroke-width", 2)
	frame(p)
	axisAt(345, y, baseTicks, baseLabels, "left")
	axisAt(848, yVis, visTicks, null, "right", VIS_COLOR)
	rotated(293, 473, "pion. rozciągł. chm.")
	rotated(307, 463, "(km)")
	rotated(894, 473, "(km)")
	rotated(907, 475, "widzialność")
}
{
	const y = d3.scaleLinear().domain(baseTicks).range([514, 495, 475, 456, 436])
	const yVis = d3.scaleLinear().domain(visTicks).range([514, 495, 475, 456, 436])
	const p = makePanel(xLeft, 436, 514)
	skyBackground(p, [[19.1, 28.1]])
	grid(p, baseTicks.slice(1, 4).map(y).concat([y(15)]))
	dots(p, y, leftHours, leftWhite, "#fff", 3)
	dots(p, y, leftHours, leftLight, "#ccc", 3)
	dots(p, y, leftHours, leftGray, "#888", 3)
	dots(p, y, leftHours, leftDark, "#444", 3)
	dots(p, y, leftHours, leftBlack, "#000", 3)
	dots(p, y, leftHours, leftTop, TOP_COLOR, 3)
	p.g.append("path").attr("d", lineOf(xLeft, yVis)(pairs(leftHours, leftVis))).attr("fill", "none").attr("stroke", VIS_COLOR).attr("stroke-width", 2)
	frame(p)
	axisAt(129, y, baseTicks, baseLabels, "left")
	axisAt(254, yVis, visTicks, null, "right", VIS_COLOR)
}

// ---- cloud cover and fog
function cloudLayers(p, y, xs, high, mid, low, vlow) {
	const area = vals => d3.area().x(d => p.x(d[0])).y0(p.bottom).y1(d => y(d[1]))(pairs(xs, vals))
	p.g.append("path").attr("d", area(high)).attr("fill", "#fff")
	p.g.append("path").attr("d", area(mid)).attr("fill", "#888")
	p.g.append("path").attr("d", area(low)).attr("fill", "#5a5a5a")
	p.g.append("path").attr("d", area(vlow)).attr("fill", "#383838")
	p.g.append("path").attr("d", lineOf(p.x, y)(pairs(xs, mid))).attr("fill", "none").attr("stroke", "#999").attr("stroke-width", 1)
	p.g.append("path").attr("d", lineOf(p.x, y)(pairs(xs, high))).attr("fill", "none").attr("stroke", "#fff").attr("stroke-width", 1)
}
function fogBars(p, yFog, xs, vals) {
	p.g.append("g").attr("fill", FOG_COLOR).selectAll("rect")
		.data(pairs(xs, vals).filter(d => d[1] > 0)).enter().append("rect")
		.attr("x", d => p.x(d[0]) - 1.5).attr("width", 3)
		.attr("y", d => yFog(d[1])).attr("height", d => yFog(0) - yFog(d[1]))
}
{
	const y = d3.scaleLinear().domain([0, 8]).range([604, 526])
	const yFog = d3.scaleLinear().domain([0, 1]).range([604, 526])
	const p = makePanel(xMain, 525.7, 604)
	skyBackground(p, nightRanges)
	cloudLayers(p, y, hours, cloudHigh, cloudMid, cloudLow, cloudVeryLow)
	fogBars(p, yFog, hours, fog)
	grid(p, cloudTicks.slice(1, 4).map(y))
	frame(p)
	axisAt(345, y, cloudTicks, null, "left")
	axisAt(848, y, cloudTicks, fogLabels, "right", VIS_COLOR)
	rotated(293, 572, "zachmurzenie")
	rotated(307, 563, "(oktanty)")
	rotated(894, 563, "(frakcja)")
	rotated(907, 562, "mgła")
}
{
	const y = d3.scaleLinear().domain([0, 8]).range([601, 523])
	const yFog = d3.scaleLinear().domain([0, 1]).range([601, 523])
	const p = makePanel(xLeft, 523, 601)
	skyBackground(p, [[19.1, 28.1]])
	cloudLayers(p, y, leftHours, leftCloudHigh, leftCloudMid, leftCloudLow, leftCloudVeryLow)
	fogBars(p, yFog, leftHours, leftFog)
	grid(p, cloudTicks.slice(1, 4).map(y))
	frame(p)
	axisAt(129, y, cloudTicks, null, "left")
	axisAt(254, y, cloudTicks, fogLabels, "right", VIS_COLOR)
}

// ---- time axes
function timeAxis(x, ticks, labels, yPos) {
	const g = svg.append("g").attr("class", "time").attr("transform", `translate(0,${yPos})`)
		.call(d3.axisBottom(x).tickValues(ticks).tickSize(0).tickPadding(0).tickFormat((d, i) => labels[i]))
	g.select(".domain").remove()
	g.selectAll("text").attr("fill", "#000").attr("dy", 0).attr("y", 0)
}
timeAxis(xMain, cetTicks, cetLabels, 54)
timeAxis(xMain, cetTicks, utcLabels, 616)
timeAxis(xLeft, [18, 24, 30], ["20", "02", "08"], 52)
timeAxis(xLeft, [18, 24, 30], ["18", "00", "06"], 614)
label(306, 50, "CET")
label(859, 50, "CET")
label(306, 612, "UTC")
label(859, 612, "UTC")
label(418, 38, "pią, 07.11", "#000", "middle")
label(568, 38, "sob, 08.11", "#000", "middle")
label(726, 38, "nie, 09.11", "#000", "middle")
label(418, 626, "07.11", "#000", "middle")
label(572, 626, "08.11", "#000", "middle")
label(725, 626, "09.11", "#000", "middle")

// ---- header and footer
label(364, 8, "wschód słońca: 06:45 CET", NAVY, "middle")
label(364, 21, "zachód słońca: 15:49 CET", NAVY, "middle")
label(596, 8, "21°31'43\"E, 53°44'52\"N", NAVY, "middle")
label(596, 21, "(x=258,  y=362)", NAVY, "middle")
label(817, 8, "wysokość (min, środek, max)", NAVY, "middle")
label(819, 21, "128 - 146 - 176 m", NAVY, "middle")
label(363, 649, "meteo@icm.edu.pl", NAVY, "middle").style("letter-spacing", "0.4px")
label(749, 649, "© 2007-2025 ICM, Uniwersytet Warszawski", NAVY, "middle").style("letter-spacing", "0.4px")

// ---- legend down the left side
svg.append("rect").attr("x", 11).attr("y", 505).attr("width", 44).attr("height", 12).attr("fill", "#87ceff")
svg.append("rect").attr("x", 10).attr("y", 551).attr("width", 41).attr("height", 12).attr("fill", "#87ceff")
const legend = [
	[6, 15, "Czas lokalny", "#000"], [6, 26, "(CET/CEST)", "#000"],
	[6, 42, "Temperatura gruntu", "#a02828"], [27, 52, "max/min", "#a02828"],
	[6, 64, "Temperatura:", "#000"], [13, 76, "punkt środkowy", "#ff0000"], [27, 86, "max/min", "#ffe0d0"],
	[10, 98, "odczuwana", "#0000ff"], [27, 108, "max/min", "#a8dcff"], [6, 120, "Temp. punktu rosy", "#6a5acd"],
	[6, 137, "Opad powyżej skali", "#ff0000"], [6, 151, "Wilgotność względna", RH_COLOR], [6, 165, "Wystąpienie burzy", "#000"],
	[6, 179, "Deszcz:", "#00a000"], [49, 179, "max", "#00a000"], [49, 190, "średni", "#00a000"], [6, 201, "Śnieg:", "#2050d0"], [49, 201, "max", "#2050d0"], [49, 212, "średni", "#2050d0"],
	[6, 224, "Wystąpienie opadu", "#ff0000"], [6, 237, "konwekcyjnego", "#ff0000"],
	[5, 263, "Ciśnienie", "#000"], [5, 276, "zredukowane", "#000"], [5, 289, "do poziomu morza", "#000"],
	[5, 318, "Wiatr na 10m:", "#000"], [10, 334, "poryw powyżej skali", "#ff0000"], [10, 348, "max porywy wiatru", "#ff0000"],
	[10, 368, "prędkość wiatru", NAVY], [10, 381, "w środku obszaru", NAVY], [10, 409, "kierunek wiatru", NAVY],
	[6, 429, "Wierzchołek chmur", "#a52a2a"], [6, 444, "Podstawa chmur*", "#000"], [6, 456, "o pokryciu", "#000"],
	[11, 468, "> 7.9 okt.", "#000"], [11, 479, "> 6.5 okt.", "#444"], [10, 490, "> 4.5 okt.", "#999"], [11, 500, "> 2.5 okt.", "#d8d8d0"], [11, 511, "> 0.1 okt.", "#fff"],
	[6, 526, "Widzialność", VIS_COLOR], [6, 543, "Chmury:", "#000"], [10, 556, "wysokie", "#fff"], [10, 569, "średnie", "#999"],
	[10, 581, "niskie", "#444"], [10, 593, "bardzo niskie", "#222"], [6, 605, "Mgła", FOG_COLOR]
]
const legendGroup = svg.append("g").attr("class", "legend")
legend.forEach(d => label(d[0], d[1], d[2], d[3], "start", null, null, legendGroup))
label(6, 622, "Czas uniwersalny (UTC)", "#000", "start", 11).style("letter-spacing", "0.3px")
label(5, 648, "* powyżej poziomu morza", "#000", "start", 8.5, "bold")

const leaders = [
	[[[68, 16], [133, 16], [156, 43]], "#000"],
	[[[102, 43], [120, 43], [148, 80]], "#a02828"],
	[[[92, 77], [115, 77]], "#ff0000"], [[[131, 77], [157, 102]], "#ff0000"],
	[[[70, 99], [135, 99]], "#0000ff"],
	[[[94, 121], [137, 121], [143, 113]], "#6a5acd"],
	[[[102, 137], [137, 137], [146, 147]], "#ff0000"],
	[[[106, 151], [113, 151]], RH_COLOR], [[[130, 151], [142, 163]], RH_COLOR],
	[[[103, 166], [119, 166]], "#000"], [[[129, 166], [139, 172]], "#000"],
	[[[70, 179], [139, 179]], "#00a000"], [[[79, 190], [143, 190]], "#00a000"],
	[[[80, 202], [112, 202]], "#2050d0"], [[[129, 202], [161, 172]], "#2050d0"],
	[[[81, 212], [132, 212], [157, 182]], "#2050d0"],
	[[[97, 225], [143, 225], [147, 220]], "#ff0000"],
	[[[52, 264], [134, 264]], "#000"],
	[[[112, 334], [118, 334]], "#ff0000"], [[[130, 334], [138, 317]], "#ff0000"],
	[[[107, 348], [132, 348], [143, 340]], "#ff0000"],
	[[[92, 367], [135, 367]], NAVY], [[[86, 410], [138, 410]], NAVY],
	[[[100, 430], [133, 430], [183, 447]], "#a52a2a"],
	[[[57, 468], [140, 468], [191, 456]], "#000"],
	[[[57, 480], [143, 480]], "#444"],
	[[[57, 491], [132, 491], [137, 495]], "#999"],
	[[[57, 501], [132, 501], [137, 506]], "#d8d8d0"],
	[[[55, 509], [136, 509]], "#87ceff"], [[[55, 511], [136, 511]], "#87ceff"],
	[[[67, 527], [128, 527], [172, 463]], VIS_COLOR],
	[[[53, 557], [185, 557]], "#87ceff"], [[[53, 559], [185, 559]], "#87ceff"],
	[[[49, 572], [192, 572]], "#999"],
	[[[40, 582], [133, 582]], "#333"], [[[74, 594], [147, 594]], "#333"],
	[[[27, 605], [218, 605], [218, 590]], FOG_COLOR],
	[[[139, 623], [148, 623], [157, 608]], "#000"]
]
leaders.forEach(d => leader(d[0], d[1]))
</script>
</body>
</html>
